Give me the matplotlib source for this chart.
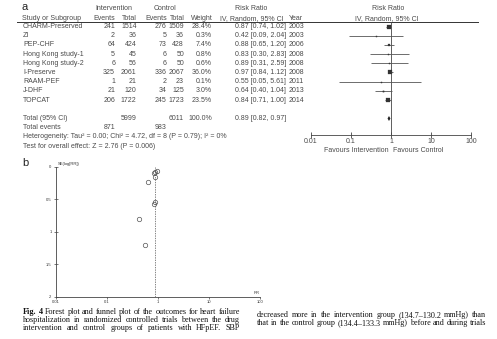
import matplotlib
matplotlib.use('Agg')
import matplotlib.pyplot as plt
from matplotlib.patches import Polygon
from matplotlib.font_manager import FontProperties

W, H, DPI = 497, 339, 100

# ---------------- data ----------------
studies = ["CHARM-Preserved", "ZI", "PEP-CHF", "Hong Kong study-1", "Hong Kong study-2",
           "I-Preserve", "RAAM-PEF", "J-DHF", "TOPCAT"]
int_events = [241, 2, 64, 5, 6, 325, 1, 21, 206]
int_total = [1514, 36, 424, 45, 56, 2061, 21, 120, 1722]
ctrl_events = [276, 5, 73, 6, 6, 336, 2, 34, 245]
ctrl_total = [1509, 36, 428, 50, 50, 2067, 23, 125, 1723]
weights = [28.4, 0.3, 7.4, 0.8, 0.6, 36.0, 0.1, 3.0, 23.5]
rr = [0.87, 0.42, 0.88, 0.83, 0.89, 0.97, 0.55, 0.64, 0.84]
rr_lo = [0.74, 0.09, 0.65, 0.30, 0.31, 0.84, 0.05, 0.40, 0.71]
rr_hi = [1.02, 2.04, 1.20, 2.83, 2.59, 1.12, 5.61, 1.04, 1.00]
years = [2003, 2003, 2006, 2008, 2008, 2008, 2011, 2013, 2014]
se_log_rr = [0.08, 0.80, 0.16, 0.57, 0.54, 0.07, 1.20, 0.24, 0.09]

total_int, total_ctrl = 5999, 6011
total_events_int, total_events_ctrl = 871, 983
pooled_rr, pooled_lo, pooled_hi = 0.89, 0.82, 0.97
heterogeneity = "Heterogeneity: Tau\u00b2 = 0.00; Chi\u00b2 = 4.72, df = 8 (P = 0.79); I\u00b2 = 0%"
overall_test = "Test for overall effect: Z = 2.76 (P = 0.006)"

forest_ticks = [0.01, 0.1, 1, 10, 100]
forest_tick_labels = ["0.01", "0.1", "1", "10", "100"]
funnel_yticks = [0, 0.5, 1, 1.5, 2]
funnel_ytick_labels = ["0", "0.5", "1", "1.5", "2"]

caption_left = [
    [("Fig.", True), ("4", True), ("Forest", False), ("plot", False), ("and", False), ("funnel", False),
     ("plot", False), ("of", False), ("the", False), ("outcomes", False), ("for", False),
     ("heart", False), ("failure", False)],
    [(w, False) for w in "hospitalization in randomized controlled trials between the drug".split()],
    [(w, False) for w in "intervention and control groups of patients with HFpEF. SBP".split()],
]
caption_right = [
    [(w, False) for w in "decreased more in the intervention group (134.7\u2013130.2 mmHg) than".split()],
    [(w, False) for w in "that in the control group (134.4\u2013133.3 mmHg) before and during trials".split()],
]

# ---------------- layout ----------------
TXT = '#4a4a4a'
SANS = 'Liberation Sans'
SERIF = 'Liberation Serif'
FS = 5.0
ROW0, DROW = 26.5, 9.2


def row_y(i):
    return ROW0 + DROW * i


def fig_rect(x0, y0, x1, y1):
    return [x0 / W, 1 - y1 / H, (x1 - x0) / W, (y1 - y0) / H]


fig = plt.figure(figsize=(W / DPI, H / DPI), dpi=DPI)
fig.patch.set_facecolor('white')
ov = fig.add_axes([0, 0, 1, 1])
ov.set_xlim(0, W)
ov.set_ylim(H, 0)
ov.axis('off')


def t(x, y, s, ha='left', size=FS, color=TXT, **kw):
    ov.text(x, y, s, ha=ha, va='center', fontsize=size, color=color, family=SANS, **kw)


# panel labels
t(22, 6.5, "a", size=8, color='#222')
t(22, 163, "b", size=8, color='#222')

# headers
t(114, 8.3, "Intervention", ha='center')
t(165, 8.3, "Control", ha='center')
t(251, 8.3, "Risk Ratio", ha='center')
t(388, 8.3, "Risk Ratio", ha='center')
t(22, 18.3, "Study or Subgroup")
t(115, 18.3, "Events", ha='right')
t(137, 18.3, "Total", ha='right')
t(167, 18.3, "Events", ha='right')
t(185, 18.3, "Total", ha='right')
t(213, 18.3, "Weight", ha='right')
t(252, 18.3, "IV, Random, 95% CI", ha='center')
t(289, 18.3, "Year")
t(387, 18.3, "IV, Random, 95% CI", ha='center')
ov.plot([17, 478], [22, 22], color='#333', lw=0.7)

# study rows
for i, name in enumerate(studies):
    y = row_y(i)
    t(23, y, name)
    t(115, y, str(int_events[i]), ha='right')
    t(136.5, y, str(int_total[i]), ha='right')
    t(166.5, y, str(ctrl_events[i]), ha='right')
    t(184, y, str(ctrl_total[i]), ha='right')
    t(212, y, f"{weights[i]:.1f}%", ha='right')
    t(235, y, f"{rr[i]:.2f} [{rr_lo[i]:.2f}, {rr_hi[i]:.2f}]")
    t(289, y, str(years[i]))

n = len(studies)
yT = row_y(n + 1)
t(23, yT, "Total (95% CI)")
t(136.5, yT, str(total_int), ha='right')
t(184, yT, str(total_ctrl), ha='right')
t(212, yT, "100.0%", ha='right')
t(235, yT, f"{pooled_rr:.2f} [{pooled_lo:.2f}, {pooled_hi:.2f}]")
t(23, row_y(n + 2), "Total events")
t(115, row_y(n + 2), str(total_events_int), ha='right')
t(166.5, row_y(n + 2), str(total_events_ctrl), ha='right')
t(23, row_y(n + 3), heterogeneity)
t(23, row_y(n + 4), overall_test)

# ---------------- forest graphic ----------------
ax = fig.add_axes(fig_rect(311, 22, 471, 135))
ax.set_xscale('log')
ax.set_xlim(0.01, 100)
ax.set_ylim((135 - ROW0) / DROW, (22 - ROW0) / DROW)
ax.patch.set_alpha(0)
for s in ['top', 'right', 'left']:
    ax.spines[s].set_visible(False)
ax.spines['bottom'].set_color('#444')
ax.spines['bottom'].set_linewidth(0.6)
ax.set_yticks([])
ax.set_xticks(forest_ticks)
ax.set_xticklabels(forest_tick_labels, fontsize=FS, color=TXT, family=SANS)
ax.xaxis.set_minor_locator(matplotlib.ticker.NullLocator())
ax.tick_params(axis='x', direction='inout', length=4, width=0.6, color='#444', pad=0.5)
ax.axvline(1, color='#444', lw=0.6)
rows = list(range(n))
ax.hlines(rows, rr_lo, rr_hi, color='#555', lw=0.6)
for i in rows:
    ms = max(0.8, 0.55 * weights[i] ** 0.5)
    ax.plot(rr[i], i, marker='s', ms=ms, color='#333', mec='#333', mew=0.2, ls='none')
hd = 0.27
ax.add_patch(Polygon([(pooled_lo, n + 1), (pooled_rr, n + 1 - hd), (pooled_hi, n + 1),
                      (pooled_rr, n + 1 + hd)], closed=True, color='#222', lw=0))

t(389, 150, "Favours Intervention", ha='right')
t(393, 150, "Favours Control", ha='left')

# ---------------- funnel plot ----------------
fx = fig.add_axes(fig_rect(55.7, 166.7, 260, 296.7))
fx.set_xscale('log')
fx.set_xlim(0.01, 100)
fx.set_ylim(2, 0)
fx.patch.set_alpha(0)
for s in ['top', 'right']:
    fx.spines[s].set_visible(False)
for s in ['left', 'bottom']:
    fx.spines[s].set_color('#444')
    fx.spines[s].set_linewidth(0.6)
fx.set_xticks(forest_ticks)
fx.set_xticklabels(forest_tick_labels, fontsize=3, color='#333', family=SANS)
fx.xaxis.set_minor_locator(matplotlib.ticker.NullLocator())
fx.set_yticks(funnel_yticks)
fx.set_yticklabels(funnel_ytick_labels, fontsize=3, color='#333', family=SANS)
fx.tick_params(axis='x', direction='out', length=1.5, width=0.5, color='#444', pad=0.8)
fx.tick_params(axis='y', direction='inout', length=3, width=0.5, color='#444', pad=1.5)
fx.axvline(pooled_rr, color='#555', lw=0.5, ls=(0, (2, 1.5)))
fx.plot(rr, se_log_rr, 'o', ms=3.2, mfc='none', mec='#555', mew=0.5)
t(58, 164, "SE(log[RR])", size=3, color='#333')
t(254, 293, "RR", size=3, color='#333')

# ---------------- caption (justified) ----------------
renderer = fig.canvas.get_renderer()
CFS = 5.85


def justify(words, x0, x1, ybase):
    props = [FontProperties(family=SERIF, size=CFS, weight='bold' if b else 'normal') for _, b in words]
    widths = [renderer.get_text_width_height_descent(w, fp, ismath=False)[0] for (w, _), fp in zip(words, props)]
    gap = (x1 - x0 - sum(widths)) / (len(words) - 1)
    gap = max(gap, 1.3)
    x = x0
    for (w, _), fp, wd in zip(words, props, widths):
        ov.text(x, ybase, w, ha='left', va='baseline', fontproperties=fp, color='#111')
        x += wd + gap


for k, line in enumerate(caption_left):
    justify(line, 23, 240, 313.7 + 8.2 * k)
for k, line in enumerate(caption_right):
    justify(line, 257, 486, 317.2 + 8.2 * k)

fig.savefig('out.png', dpi=DPI, facecolor='white')
